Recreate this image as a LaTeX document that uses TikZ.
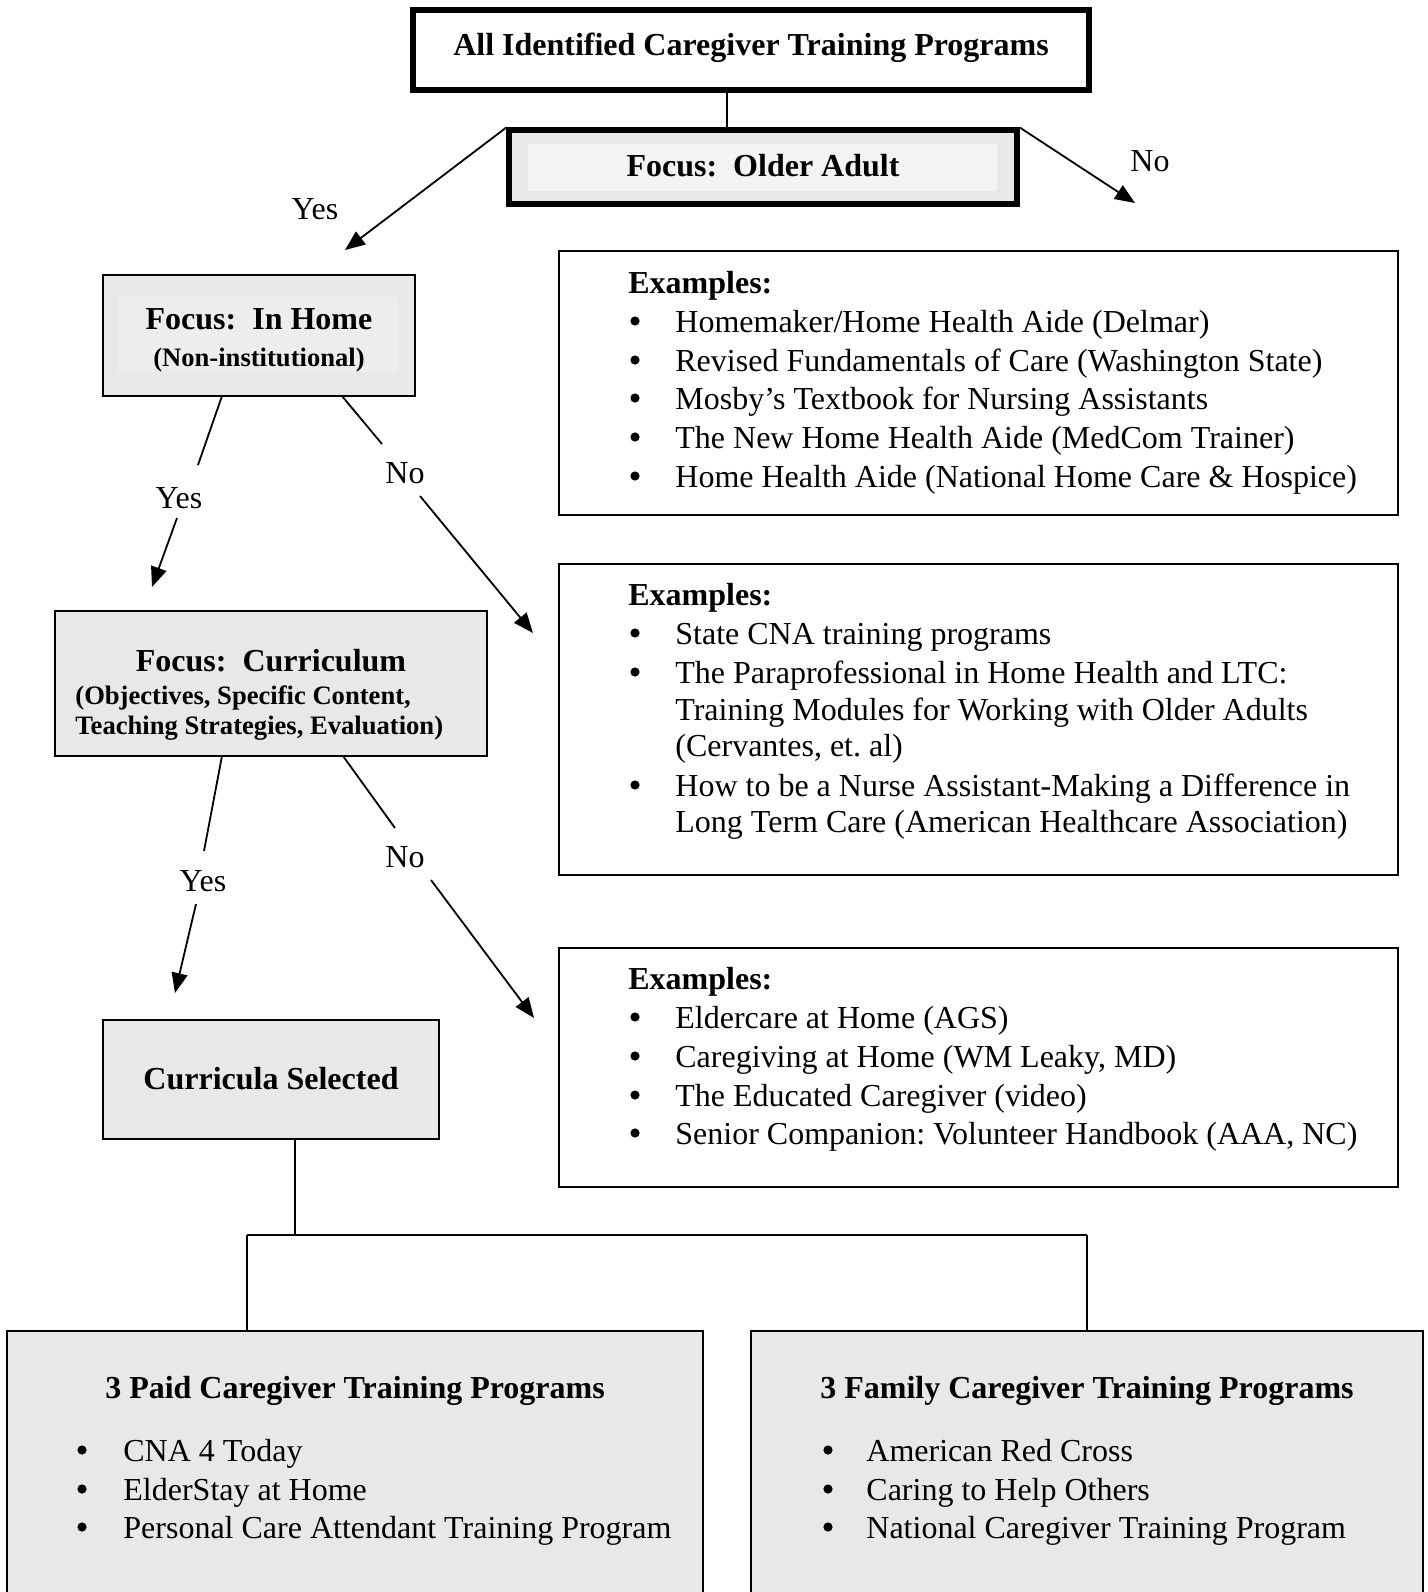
\documentclass[tikz,border=0pt]{standalone}
\usepackage{fontspec}
\setmainfont{Liberation Serif}
\usetikzlibrary{arrows.meta}
\definecolor{boxgray}{RGB}{232,232,232}
\definecolor{innergray}{RGB}{243,243,243}
\definecolor{homeinner}{RGB}{237,237,237}
\frenchspacing
\begin{document}
\begin{tikzpicture}[x=0.5pt,y=-0.5pt,
  every node/.style={inner sep=0pt, font=\fontsize{16}{19}\selectfont\frenchspacing},
  thinbox/.style={draw=black, line width=1pt, rectangle},
  heavybox/.style={draw=black, line width=2.6pt, rectangle},
  conn/.style={line width=0.9pt},
  arr/.style={line width=0.9pt, -{Triangle[length=10pt,width=8pt]}},
  txt/.style={anchor=base},
  ltxt/.style={anchor=base west},
  bfont/.style={font=\fontsize{16}{19}\selectfont\bfseries\frenchspacing},
  sfont/.style={font=\fontsize{13.3}{15}\selectfont\bfseries\frenchspacing},
  bul/.style={circle, fill=black, minimum size=4.6pt},
  ]
\useasboundingbox (0,0) rectangle (1428,1592);
\fill[white] (0,0) rectangle (1428,1592);

% boxes
\node[heavybox, minimum width=338pt, minimum height=40pt] (top) at (751,50) {};
\node[heavybox, fill=boxgray, minimum width=254pt, minimum height=37pt] (older) at (763,167) {};
\node[fill=innergray, minimum width=234.5pt, minimum height=23.5pt] (olderin) at (762.5,167.5) {};
\node[thinbox, fill=boxgray, minimum width=156pt, minimum height=60.5pt] (home) at (259,335.5) {};
\node[fill=homeinner, minimum width=140pt, minimum height=37.5pt] (homein) at (258,334.5) {};
\node[thinbox, fill=boxgray, minimum width=216pt, minimum height=72.5pt] (curr) at (271,683.5) {};
\node[thinbox, fill=boxgray, minimum width=168pt, minimum height=59.5pt] (sel) at (271,1079.5) {};
\node[thinbox, minimum width=419.5pt, minimum height=132pt] (ex1) at (978.5,383) {};
\node[thinbox, minimum width=419.5pt, minimum height=155.5pt] (ex2) at (978.5,719.5) {};
\node[thinbox, minimum width=419.5pt, minimum height=119.5pt] (ex3) at (978.5,1067.5) {};
\node[thinbox, fill=boxgray, minimum width=348pt, minimum height=154.5pt] (paid) at (355,1485.5) {};
\node[thinbox, fill=boxgray, minimum width=336pt, minimum height=154.5pt] (fam) at (1087,1485.5) {};

% box texts
\node[bfont, txt] (ttop) at (751,55) {All Identified Caregiver Training Programs};
\node[bfont, txt] (tolder) at (763,176) {Focus:\ \ Older Adult};
\node[bfont, txt] (thome) at (259,329) {Focus:\ \ In Home};
\node[sfont, txt] (thome2) at (259,366) {(Non-institutional)};
\node[bfont, txt] (tcurr) at (271,671) {Focus:\ \ Curriculum};
\node[sfont, ltxt] (tcurr2) at (75,704) {(Objectives, Specific Content,};
\node[sfont, ltxt] (tcurr3) at (75,734) {Teaching Strategies, Evaluation)};
\node[bfont, txt] (tsel) at (271,1089) {Curricula Selected};

% examples 1
\node[bfont, ltxt] (e1h) at (628,293) {Examples:};
\node[bul] (e1b1) at (635,321) {};
\node[ltxt] (e1t1) at (675,332) {Homemaker/Home Health Aide (Delmar)};
\node[bul] (e1b2) at (635,360) {};
\node[ltxt] (e1t2) at (675,371) {Revised Fundamentals of Care (Washington State)};
\node[bul] (e1b3) at (635,398) {};
\node[ltxt] (e1t3) at (675,409) {Mosby’s Textbook for Nursing Assistants};
\node[bul] (e1b4) at (635,437) {};
\node[ltxt] (e1t4) at (675,448) {The New Home Health Aide (MedCom Trainer)};
\node[bul] (e1b5) at (635,476) {};
\node[ltxt] (e1t5) at (675,487) {Home Health Aide (National Home Care \& Hospice)};

% examples 2
\node[bfont, ltxt] (e2h) at (628,605) {Examples:};
\node[bul] (e2b1) at (635,633) {};
\node[ltxt] (e2t1) at (675,644) {State CNA training programs};
\node[bul] (e2b2) at (635,672) {};
\node[ltxt] (e2t2) at (675,683) {The Paraprofessional in Home Health and LTC:};
\node[ltxt] (e2t2b) at (675,720) {Training Modules for Working with Older Adults};
\node[ltxt] (e2t2c) at (675,756) {(Cervantes, et. al)};
\node[bul] (e2b3) at (635,785) {};
\node[ltxt] (e2t3) at (675,796) {How to be a Nurse Assistant-Making a Difference in};
\node[ltxt] (e2t3b) at (675,832) {Long Term Care (American Healthcare Association)};

% examples 3
\node[bfont, ltxt] (e3h) at (628,989) {Examples:};
\node[bul] (e3b1) at (635,1017) {};
\node[ltxt] (e3t1) at (675,1028) {Eldercare at Home (AGS)};
\node[bul] (e3b2) at (635,1056) {};
\node[ltxt] (e3t2) at (675,1067) {Caregiving at Home (WM Leaky, MD)};
\node[bul] (e3b3) at (635,1095) {};
\node[ltxt] (e3t3) at (675,1106) {The Educated Caregiver (video)};
\node[bul] (e3b4) at (635,1133) {};
\node[ltxt] (e3t4) at (675,1144) {Senior Companion: Volunteer Handbook (AAA, NC)};

% paid
\node[bfont, txt] (tpaid) at (355,1398) {3 Paid Caregiver Training Programs};
\node[bul] (pb1) at (82,1450) {};
\node[ltxt] (pt1) at (123,1461) {CNA 4 Today};
\node[bul] (pb2) at (82,1489) {};
\node[ltxt] (pt2) at (123,1500) {ElderStay at Home};
\node[bul] (pb3) at (82,1527) {};
\node[ltxt] (pt3) at (123,1538) {Personal Care Attendant Training Program};

% family
\node[bfont, txt] (tfam) at (1087,1398) {3 Family Caregiver Training Programs};
\node[bul] (fb1) at (828,1450) {};
\node[ltxt] (ft1) at (866,1461) {American Red Cross};
\node[bul] (fb2) at (828,1489) {};
\node[ltxt] (ft2) at (866,1500) {Caring to Help Others};
\node[bul] (fb3) at (828,1527) {};
\node[ltxt] (ft3) at (866,1538) {National Caregiver Training Program};

% labels
\node[txt] (yes1) at (315,219) {Yes};
\node[txt] (no1) at (1150,171) {No};
\node[txt] (yes2) at (179,508) {Yes};
\node[txt] (no2) at (405,483) {No};
\node[txt] (yes3) at (203,891) {Yes};
\node[txt] (no3) at (405,867) {No};

% coordinates
\coordinate (kx) at (727,0);
\coordinate (yestip) at (345,250);
\coordinate (notip) at (1135,203);
\coordinate (h1s) at (222,396);
\coordinate (h1a) at (198,465);
\coordinate (h1b) at (177,518);
\coordinate (h1t) at (152,587);
\coordinate (h2s) at (342,396);
\coordinate (h2a) at (382,444);
\coordinate (h2b) at (420,496);
\coordinate (h2t) at (533,633);
\coordinate (c1s) at (222,756);
\coordinate (c1a) at (204,851);
\coordinate (c1b) at (196,904);
\coordinate (c1t) at (175,993);
\coordinate (c2s) at (343,756);
\coordinate (c2a) at (395,828);
\coordinate (c2b) at (431,880);
\coordinate (c2t) at (534,1018);
\coordinate (sx) at (295,0);
\coordinate (jl) at (247,1235);
\coordinate (jr) at (1087,1235);

% connectors
\draw[conn] (top.south -| kx) -- (older.north -| kx);
\draw[arr] (older.north west) -- (yestip);
\draw[arr] (older.north east) -- (notip);
\draw[conn] (h1s) -- (h1a);
\draw[arr] (h1b) -- (h1t);
\draw[conn] (h2s) -- (h2a);
\draw[arr] (h2b) -- (h2t);
\draw[conn] (c1s) -- (c1a);
\draw[arr] (c1b) -- (c1t);
\draw[conn] (c2s) -- (c2a);
\draw[arr] (c2b) -- (c2t);
\draw[conn] (sel.south -| sx) -- (jl -| sx);
\draw[conn] (jl) -- (jr);
\draw[conn] (jl) -- (paid.north -| jl);
\draw[conn] (jr) -- (fam.north -| jr);
\end{tikzpicture}
\end{document}
